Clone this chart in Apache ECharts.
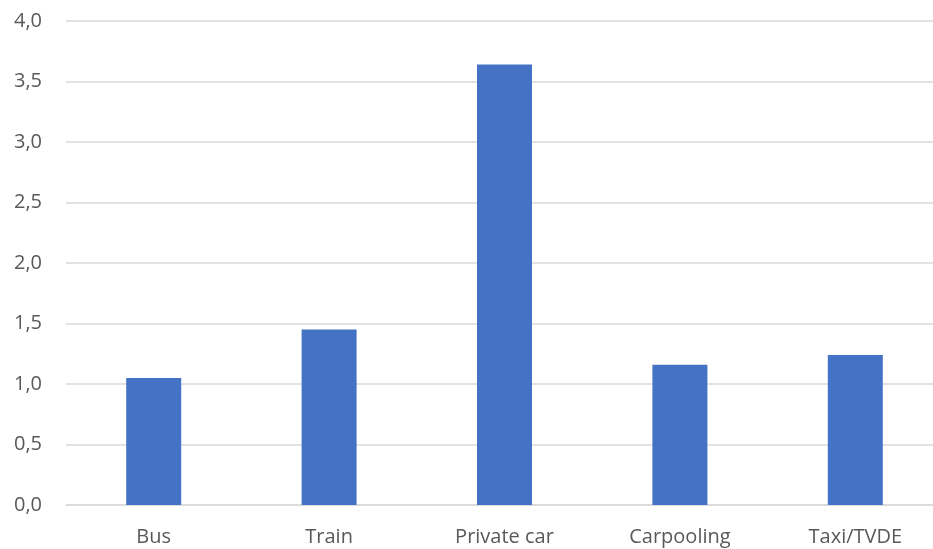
<!DOCTYPE html>
<html>
<head>
<meta charset="utf-8">
<script src="https://cdn.jsdelivr.net/npm/echarts@6/dist/echarts.min.js"></script>
<style>
  html, body { margin: 0; padding: 0; background: #fff; overflow: hidden; }
  /* plot area runs slightly past the right edge of the window */
  #chart { width: 943px; height: 549px; }
</style>
</head>
<body>
<div id="chart"></div>
<script>
// Travel modes and their scores
const categories = ['Bus', 'Train', 'Private car', 'Carpooling', 'Taxi/TVDE'];
const values = [1.05, 1.45, 3.64, 1.16, 1.24];

const chart = echarts.init(document.getElementById('chart'));
chart.setOption({
  animation: false,
  grid: { left: 66, top: 21, right: 0, bottom: 44, containLabel: false },
  xAxis: {
    type: 'category',
    data: categories,
    axisLine: { show: true, lineStyle: { color: '#d9d9d9', width: 1.5 } },
    axisTick: { show: false },
    axisLabel: {
      color: '#595959', fontSize: 20, margin: 22,
      fontFamily: 'Open Sans, Liberation Sans, sans-serif'
    }
  },
  yAxis: {
    type: 'value',
    min: 0, max: 4, interval: 0.5,
    axisLine: { show: false },
    axisTick: { show: false },
    splitLine: { lineStyle: { color: '#d9d9d9', width: 1.5 } },
    axisLabel: {
      color: '#595959', fontSize: 20, margin: 24,
      fontFamily: 'Open Sans, Liberation Sans, sans-serif',
      formatter: v => v.toFixed(1).replace('.', ',')
    }
  },
  series: [{
    type: 'bar',
    data: values,
    barWidth: 55,
    itemStyle: { color: '#4472c4' }
  }]
});
</script>
</body>
</html>
